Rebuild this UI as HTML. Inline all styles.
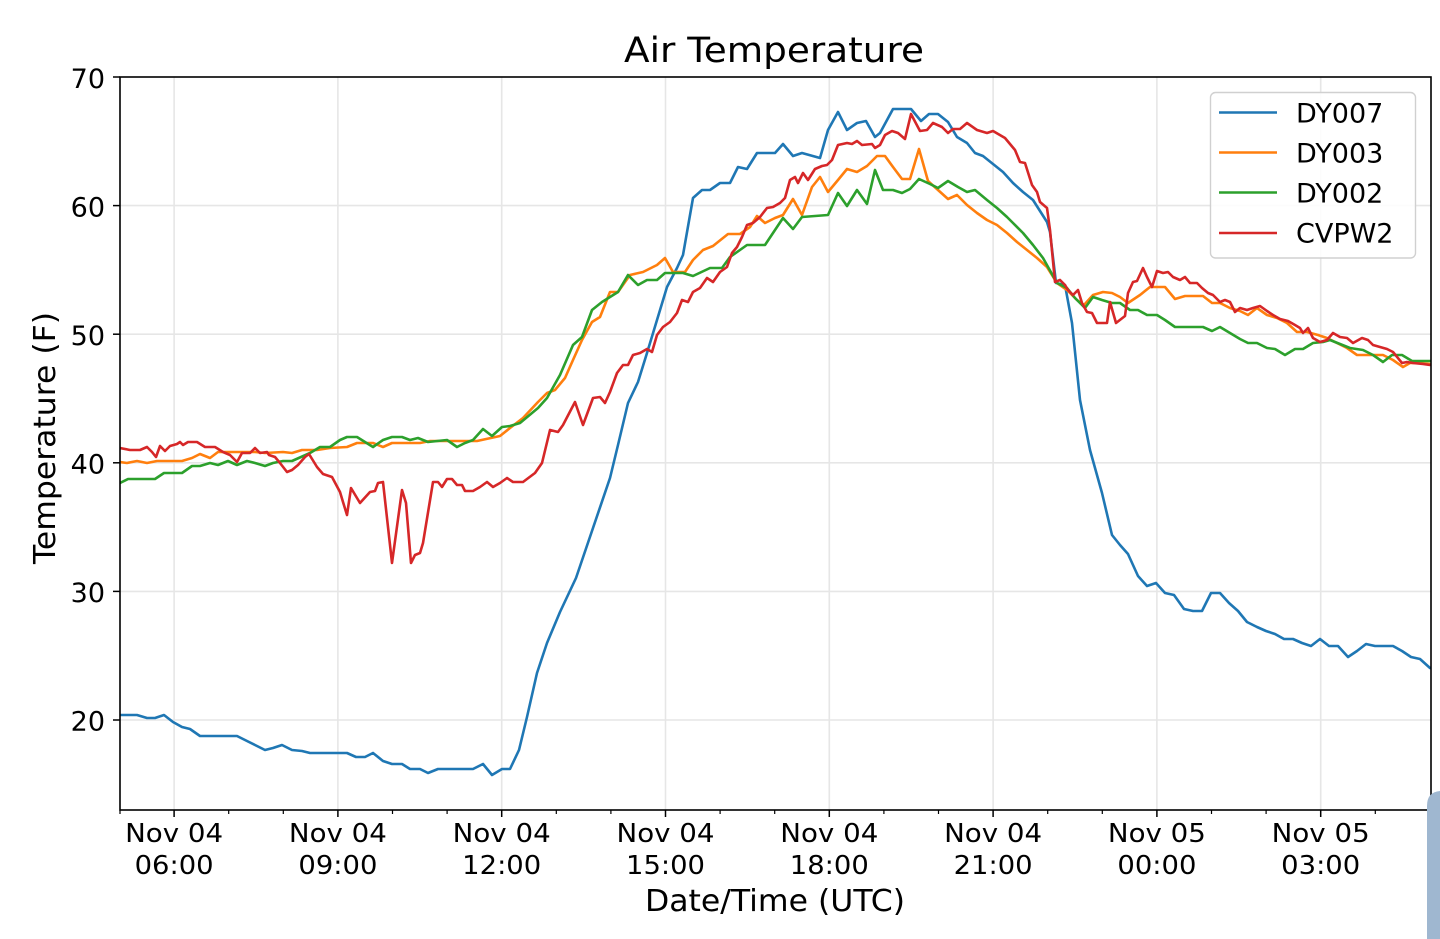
<!DOCTYPE html>
<html>
<head>
<meta charset="utf-8">
<style>
html,body{margin:0;padding:0;background:#fff;}
svg{display:block;}
text{font-family:"DejaVu Sans","Liberation Sans",sans-serif;fill:#000;}
</style>
</head>
<body>
<svg width="1440" height="939" viewBox="0 0 1440 939" xmlns="http://www.w3.org/2000/svg">
<defs>
<clipPath id="pc"><rect x="120" y="77" width="1311" height="733"/></clipPath>
</defs>
<rect x="0" y="0" width="1440" height="939" fill="#fff"/>

<!-- grid -->
<g stroke="#e6e6e6" stroke-width="1.6">
<line x1="174.1" y1="77" x2="174.1" y2="810"/>
<line x1="337.9" y1="77" x2="337.9" y2="810"/>
<line x1="501.7" y1="77" x2="501.7" y2="810"/>
<line x1="665.5" y1="77" x2="665.5" y2="810"/>
<line x1="829.3" y1="77" x2="829.3" y2="810"/>
<line x1="993.1" y1="77" x2="993.1" y2="810"/>
<line x1="1156.9" y1="77" x2="1156.9" y2="810"/>
<line x1="1320.7" y1="77" x2="1320.7" y2="810"/>
<line x1="120" y1="205.6" x2="1431" y2="205.6"/>
<line x1="120" y1="334.2" x2="1431" y2="334.2"/>
<line x1="120" y1="462.8" x2="1431" y2="462.8"/>
<line x1="120" y1="591.4" x2="1431" y2="591.4"/>
<line x1="120" y1="720" x2="1431" y2="720"/>
</g>

<!-- series -->
<g clip-path="url(#pc)" fill="none" stroke-width="2.6" stroke-linejoin="round" stroke-linecap="round">
<polyline stroke="#1f77b4" points="120,715 128,715 137,715 147,718 155,718 164,715 173,722 182,727 190,729 200,736 210,736 237,736 247,741 255,745 265,750 273,748 282,745 292,750 302,751 310,753 347,753 356,757 365,757 373,753 383,761 392,764 402,764 410,769 420,769 428,773 438,769 473,769 483,764 492,775 502,769 510,769 519,750 527,717 537,673 547,643 560,612 576,578 593,528 610,478 618,445 628,403 638,382 647,353 657,320 667,287 677,268 683,255 693,198 702,190 710,190 720,183 730,183 738,167 747,169 757,153 775,153 783,144 793,156 802,153 820,158 828,130 838,112 847,130 857,123 866,121 875,137 880,133 893,109 911,109 921,121 929,114 938,114 948,122 957,137 967,143 975,153 983,156 993,164 1003,172 1013,183 1023,192 1033,200 1047,222 1050,232 1056,283 1065,285 1072,323 1080,400 1090,450 1102,493 1112,535 1120,545 1128,554 1138,576 1147,586 1156,583 1165,593 1174,595 1184,609 1193,611 1202,611 1211,593 1220,593 1229,603 1238,611 1247,622 1257,627 1266,631 1275,634 1284,639 1293,639 1302,643 1311,646 1320,639 1329,646 1338,646 1348,657 1357,651 1366,644 1375,646 1393,646 1402,651 1411,657 1420,659 1430,668"/>
<polyline stroke="#ff7f0e" points="120,462 127,463 137,461 147,463 157,461 182,461 192,458 200,454 210,458 218,452 255,452 265,453 283,452 292,453 302,450 317,450 330,448 347,447 357,443 373,443 383,447 392,443 420,443 430,441 477,441 500,436 510,428 523,418 538,402 547,393 555,390 565,378 573,360 582,340 592,322 600,317 610,292 618,292 630,275 643,272 657,265 665,258 673,272 685,272 693,260 703,250 713,246 728,234 740,234 750,227 757,216 765,223 775,218 783,215 793,199 802,215 812,187 820,177 828,192 838,180 847,169 857,172 867,166 877,156 885,156 893,167 902,179 910,179 919,149 928,181 938,190 948,199 957,195 967,205 977,213 987,220 997,225 1007,233 1017,242 1027,250 1037,258 1047,267 1057,283 1067,290 1077,300 1084,305 1093,295 1103,292 1112,293 1120,297 1128,303 1140,295 1150,287 1165,287 1175,299 1185,296 1203,296 1212,303 1220,303 1230,308 1240,311 1248,315 1257,308 1267,315 1277,318 1287,323 1297,332 1307,332 1318,335 1327,338 1337,343 1347,348 1357,355 1383,355 1393,360 1403,367 1410,363 1420,363 1430,364"/>
<polyline stroke="#2ca02c" points="120,483 128,479 155,479 164,473 182,473 192,466 200,466 210,463 218,465 228,461 237,465 247,461 255,463 265,466 273,463 283,461 292,461 310,453 320,447 330,447 340,440 347,437 357,437 373,447 383,440 392,437 402,437 410,440 418,438 428,442 447,440 457,447 465,443 473,440 483,429 492,436 502,427 510,426 520,423 538,408 547,398 560,375 573,345 582,337 592,310 602,302 618,292 628,275 638,285 647,280 657,280 665,273 683,273 693,276 710,268 722,268 730,257 747,245 765,245 773,233 783,218 793,229 802,217 828,215 838,193 847,206 857,190 867,204 875,170 883,190 893,190 902,193 910,189 919,179 930,184 938,188 948,181 958,187 967,192 975,190 987,200 997,208 1007,217 1013,223 1023,233 1033,245 1043,258 1057,283 1067,288 1075,298 1085,308 1093,297 1102,300 1112,303 1120,303 1130,310 1138,310 1147,315 1157,315 1165,320 1175,327 1203,327 1212,331 1220,327 1230,333 1240,339 1248,343 1257,343 1267,348 1275,349 1285,355 1295,349 1303,349 1313,343 1323,342 1330,340 1340,344 1350,348 1363,350 1373,355 1383,362 1392,355 1402,355 1412,361 1430,361"/>
<polyline stroke="#d62728" points="120,448 130,450 140,450 147,447 152,452 156,457 160,446 165,451 170,446 177,444 180,442 183,445 188,442 197,442 205,447 215,447 223,452 230,455 237,462 242,453 250,453 255,448 260,453 267,452 269,455 275,457 280,463 287,472 292,470 298,465 305,457 309,454 317,467 323,474 332,477 340,492 343,502 347,515 351,488 360,503 370,492 375,491 378,483 383,482 392,563 402,490 406,503 411,563 415,555 420,553 423,543 433,482 438,482 442,487 447,479 452,479 457,485 462,485 465,491 473,491 480,487 487,482 493,487 500,483 507,478 513,482 523,482 535,473 542,463 550,430 558,432 563,425 575,402 583,425 593,398 600,397 605,403 610,392 617,373 623,365 628,365 633,355 640,353 647,349 652,352 657,335 663,327 670,322 677,313 682,300 688,302 693,292 700,288 707,278 713,282 720,272 727,267 732,253 737,247 742,237 747,225 753,223 760,217 767,208 773,207 780,203 785,198 790,180 795,177 798,183 803,173 808,180 815,169 822,166 827,165 832,160 838,145 847,143 852,144 857,141 862,145 872,144 875,148 880,145 885,135 892,131 898,133 905,139 911,114 920,131 927,130 933,123 942,127 948,133 953,129 960,129 967,123 977,130 987,133 993,131 1005,138 1015,150 1020,162 1025,163 1032,185 1037,192 1040,202 1047,208 1050,230 1055,282 1060,280 1065,285 1068,290 1073,295 1078,290 1082,303 1087,312 1092,313 1097,323 1107,323 1110,302 1116,323 1125,316 1128,293 1133,282 1137,281 1143,268 1147,277 1152,287 1157,271 1163,273 1168,272 1173,277 1180,280 1185,277 1190,283 1197,283 1202,288 1208,293 1213,295 1220,302 1225,300 1230,302 1235,312 1240,308 1247,310 1253,308 1260,306 1267,311 1273,315 1280,319 1288,321 1295,325 1300,328 1303,333 1308,328 1313,338 1320,342 1327,340 1333,333 1340,337 1347,338 1353,343 1362,338 1368,340 1373,345 1380,347 1387,349 1393,352 1402,363 1407,362 1413,363 1423,364 1430,365"/>
</g>

<!-- spines -->
<rect x="120" y="77" width="1311" height="733" fill="none" stroke="#000" stroke-width="1.6"/>

<!-- y ticks -->
<g stroke="#000" stroke-width="1.5">
<line x1="113" y1="77" x2="120" y2="77"/>
<line x1="113" y1="205.6" x2="120" y2="205.6"/>
<line x1="113" y1="334.2" x2="120" y2="334.2"/>
<line x1="113" y1="462.8" x2="120" y2="462.8"/>
<line x1="113" y1="591.4" x2="120" y2="591.4"/>
<line x1="113" y1="720" x2="120" y2="720"/>
</g>
<g font-size="27" text-anchor="end">
<text x="105" y="88">70</text>
<text x="105" y="216.5">60</text>
<text x="105" y="345">50</text>
<text x="105" y="473.5">40</text>
<text x="105" y="602">30</text>
<text x="105" y="730.5">20</text>
</g>

<!-- x ticks -->
<g stroke="#000" stroke-width="1.5">
<line x1="174.1" y1="810" x2="174.1" y2="817"/>
<line x1="337.9" y1="810" x2="337.9" y2="817"/>
<line x1="501.7" y1="810" x2="501.7" y2="817"/>
<line x1="665.5" y1="810" x2="665.5" y2="817"/>
<line x1="829.3" y1="810" x2="829.3" y2="817"/>
<line x1="993.1" y1="810" x2="993.1" y2="817"/>
<line x1="1156.9" y1="810" x2="1156.9" y2="817"/>
<line x1="1320.7" y1="810" x2="1320.7" y2="817"/>
</g>
<g stroke="#000" stroke-width="1.2">
<line x1="120" y1="810" x2="120" y2="814"/>
<line x1="228.7" y1="810" x2="228.7" y2="814"/>
<line x1="283.3" y1="810" x2="283.3" y2="814"/>
<line x1="392.5" y1="810" x2="392.5" y2="814"/>
<line x1="447.1" y1="810" x2="447.1" y2="814"/>
<line x1="556.3" y1="810" x2="556.3" y2="814"/>
<line x1="610.9" y1="810" x2="610.9" y2="814"/>
<line x1="720.1" y1="810" x2="720.1" y2="814"/>
<line x1="774.7" y1="810" x2="774.7" y2="814"/>
<line x1="883.9" y1="810" x2="883.9" y2="814"/>
<line x1="938.5" y1="810" x2="938.5" y2="814"/>
<line x1="1047.7" y1="810" x2="1047.7" y2="814"/>
<line x1="1102.3" y1="810" x2="1102.3" y2="814"/>
<line x1="1211.5" y1="810" x2="1211.5" y2="814"/>
<line x1="1266.1" y1="810" x2="1266.1" y2="814"/>
<line x1="1375.3" y1="810" x2="1375.3" y2="814"/>
<line x1="1430" y1="810" x2="1430" y2="814"/>
</g>
<g font-size="26" text-anchor="middle">
<text x="174.1" y="842" textLength="98" lengthAdjust="spacingAndGlyphs">Nov 04</text>
<text x="174.1" y="874" textLength="79" lengthAdjust="spacingAndGlyphs">06:00</text>
<text x="337.9" y="842" textLength="98" lengthAdjust="spacingAndGlyphs">Nov 04</text>
<text x="337.9" y="874" textLength="79" lengthAdjust="spacingAndGlyphs">09:00</text>
<text x="501.7" y="842" textLength="98" lengthAdjust="spacingAndGlyphs">Nov 04</text>
<text x="501.7" y="874" textLength="79" lengthAdjust="spacingAndGlyphs">12:00</text>
<text x="665.5" y="842" textLength="98" lengthAdjust="spacingAndGlyphs">Nov 04</text>
<text x="665.5" y="874" textLength="79" lengthAdjust="spacingAndGlyphs">15:00</text>
<text x="829.3" y="842" textLength="98" lengthAdjust="spacingAndGlyphs">Nov 04</text>
<text x="829.3" y="874" textLength="79" lengthAdjust="spacingAndGlyphs">18:00</text>
<text x="993.1" y="842" textLength="98" lengthAdjust="spacingAndGlyphs">Nov 04</text>
<text x="993.1" y="874" textLength="79" lengthAdjust="spacingAndGlyphs">21:00</text>
<text x="1156.9" y="842" textLength="98" lengthAdjust="spacingAndGlyphs">Nov 05</text>
<text x="1156.9" y="874" textLength="79" lengthAdjust="spacingAndGlyphs">00:00</text>
<text x="1320.7" y="842" textLength="98" lengthAdjust="spacingAndGlyphs">Nov 05</text>
<text x="1320.7" y="874" textLength="79" lengthAdjust="spacingAndGlyphs">03:00</text>
</g>

<!-- labels -->
<text x="774" y="62" font-size="35" text-anchor="middle" textLength="300" lengthAdjust="spacingAndGlyphs">Air Temperature</text>
<text x="775" y="911" font-size="30" text-anchor="middle" textLength="260" lengthAdjust="spacingAndGlyphs">Date/Time (UTC)</text>
<text transform="translate(55,438) rotate(-90)" x="0" y="0" font-size="30" text-anchor="middle" textLength="252" lengthAdjust="spacingAndGlyphs">Temperature (F)</text>

<!-- legend -->
<rect x="1210.5" y="92.5" width="205" height="165.5" rx="5" ry="5" fill="#fff" fill-opacity="0.85" stroke="#d0d0d0" stroke-width="1.4"/>
<g stroke-width="2.6">
<line x1="1219" y1="112.5" x2="1277" y2="112.5" stroke="#1f77b4"/>
<line x1="1219" y1="152.5" x2="1277" y2="152.5" stroke="#ff7f0e"/>
<line x1="1219" y1="192.5" x2="1277" y2="192.5" stroke="#2ca02c"/>
<line x1="1219" y1="233" x2="1277" y2="233" stroke="#d62728"/>
</g>
<g font-size="27">
<text x="1296" y="122.5">DY007</text>
<text x="1296" y="162.5">DY003</text>
<text x="1296" y="202.5">DY002</text>
<text x="1296" y="242.7">CVPW2</text>
</g>

<!-- corner artifact -->
<path d="M1427,939 L1427,806 Q1427,792 1440,791 L1440,939 Z" fill="#9fb7d0"/>
</svg>
</body>
</html>
